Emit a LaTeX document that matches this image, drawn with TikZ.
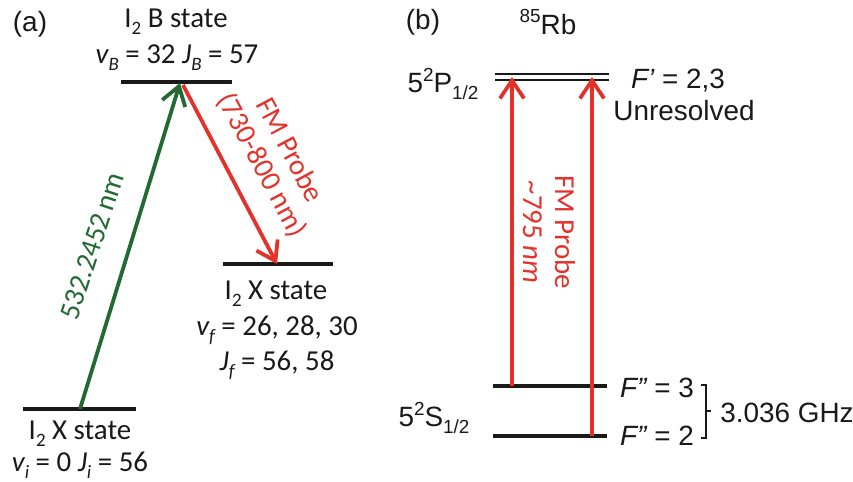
\documentclass[tikz,border=0pt]{standalone}
\usepackage{fontspec}
\newfontfamily\calfont{Carlito}
\newfontfamily\arifont{Liberation Sans}
\usetikzlibrary{arrows.meta}
\definecolor{grn}{RGB}{35,105,50}
\definecolor{rd}{RGB}{228,50,42}
\definecolor{lvlc}{RGB}{25,25,25}
\newcommand{\lsub}[1]{\raisebox{-0.25em}{\fontsize{19}{19}\selectfont #1}}
\newcommand{\lsup}[1]{\raisebox{0.42em}{\fontsize{19}{19}\selectfont #1}}
\begin{document}
\begin{tikzpicture}[x=1bp,y=-1bp,
  lvl/.style={line width=3.1bp, lvlc},
  arr/.style={line width=3.8bp, -{Straight Barb[length=18bp,width=24bp]}},
  ta/.style={font=\calfont\fontsize{29}{32}\selectfont, inner sep=0pt, text=lvlc},
  tb/.style={font=\arifont\fontsize{28}{30}\selectfont, inner sep=0pt, text=lvlc}]
\useasboundingbox (0,0) rectangle (853,482);

% ---------- panel (a) ----------
\node[tb] (la) at (30,24) {(a)};
\coordinate (Bl) at (121,82);  \coordinate (Br) at (232,82);
\coordinate (Xl) at (23,409);  \coordinate (Xr) at (136,409);
\coordinate (Fl) at (223,264); \coordinate (Fr) at (333,264);
\draw[lvl] (Bl) -- (Br);
\draw[lvl] (Xl) -- (Xr);
\draw[lvl] (Fl) -- (Fr);

\coordinate (g0) at (80,409);  \coordinate (g1) at (180,83);
\coordinate (r0) at (183,85);  \coordinate (r1) at (277,264);
\draw[arr, grn] (g0) -- (g1);
\draw[arr, rd] (r0) -- (r1);

\node[ta] (bst) at (176,22) {I\lsub{2} B state};
\node[ta] (bq) at (177,58) {{\itshape v}\lsub{\itshape B} = 32 {\itshape J}\lsub{\itshape B} = 57};
\node[ta] (xf) at (276,294) {I\lsub{2} X state};
\node[ta] (vf) at (277,330) {{\itshape v}\lsub{\itshape f} = 26, 28, 30};
\node[ta] (jf) at (277,365) {{\itshape J}\lsub{\itshape f} = 56, 58};
\node[ta] (xi) at (80,434) {I\lsub{2} X state};
\node[ta] (vi) at (80,465) {{\itshape v}\lsub{\itshape i} = 0 {\itshape J}\lsub{\itshape i} = 56};
\node[ta, text=grn, rotate=72] (gl) at (92,246) {532.2452\,nm};
\node[ta, text=rd, rotate=-62, align=center] (rl) at (275,158) {FM Probe\\(730-800 nm)};

% ---------- panel (b) ----------
\node[tb] (lb) at (423,22) {(b)};
\node[tb] (rb) at (548,22) {\lsup{85}Rb};
\coordinate (Pa1) at (495,74); \coordinate (Pa2) at (609,74);
\coordinate (Pb1) at (495,80); \coordinate (Pb2) at (609,80);
\coordinate (S31) at (493,386); \coordinate (S32) at (607,386);
\coordinate (S21) at (493,436); \coordinate (S22) at (607,436);
\draw[lvl, line width=2.7bp] (Pa1) -- (Pa2);
\draw[lvl, line width=2.7bp] (Pb1) -- (Pb2);
\draw[lvl] (S31) -- (S32);
\draw[lvl] (S21) -- (S22);

\coordinate (a0) at (512,386); \coordinate (a1) at (512,77);
\coordinate (b0) at (592,436); \coordinate (b1) at (592,77);
\draw[arr, rd] (a0) -- (a1);
\draw[arr, rd] (b0) -- (b1);

\node[tb] (p12) at (443,84) {5\lsup{2}P\lsub{1/2}};
\node[tb] (fp) at (678,81) {{\itshape F’} = 2,3};
\node[tb] (un) at (684,111) {Unresolved};
\node[tb] (f3) at (657,388) {{\itshape F”} = 3};
\node[tb] (f2) at (657,436) {{\itshape F”} = 2};
\node[tb] (s12) at (434,418) {5\lsup{2}S\lsub{1/2}};
\node[tb] (ghz) at (787,413) {3.036 GHz};
\coordinate (k1) at (701,385); \coordinate (k2) at (706,385);
\coordinate (k3) at (706,438); \coordinate (k4) at (701,438);
\coordinate (km) at (706,411); \coordinate (kt) at (711,411);
\draw[lvlc, line width=2.8bp] (k1) -- (k2) -- (k3) -- (k4);
\draw[lvlc, line width=2.8bp] (km) -- (kt);
\node[ta, text=rd, rotate=-90, align=center] (rl2) at (549,232) {FM Probe\\\textasciitilde795 {\itshape nm}};
\end{tikzpicture}
\end{document}
